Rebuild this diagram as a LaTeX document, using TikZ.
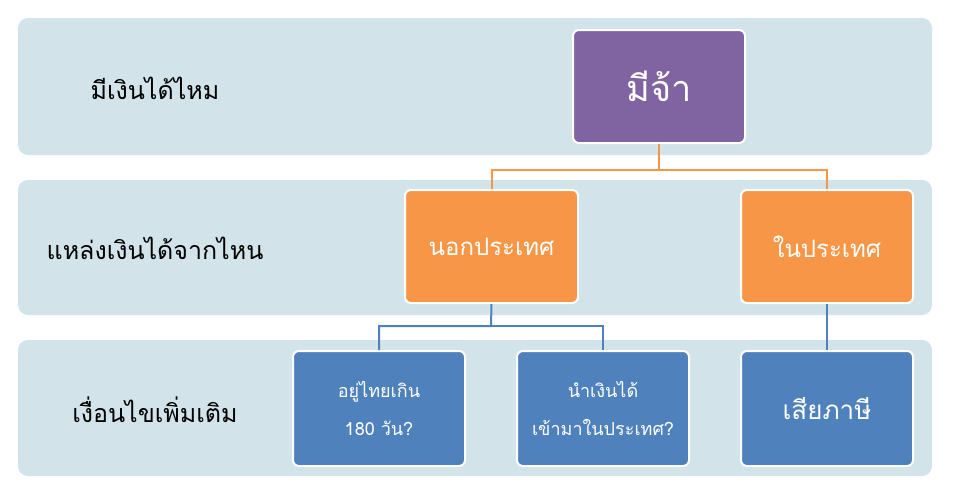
\documentclass[tikz,border=0pt]{standalone}
\usepackage{fontspec}
\newfontfamily\thai[Script=Thai]{Loma}
\definecolor{band}{HTML}{D3E3EA}
\definecolor{purp}{HTML}{8064A2}
\definecolor{orng}{HTML}{F79646}
\definecolor{blu}{HTML}{4F81BD}
\tikzset{
  bandbox/.style={fill=band,rounded corners=10pt,draw=none},
  card/.style={draw=white,line width=2pt,rounded corners=6pt,text=white,align=center,font=\thai},
  lab/.style={font=\thai\fontsize{25}{30}\selectfont,anchor=center},
  oline/.style={draw=orng,line width=2pt},
  bline/.style={draw=blu,line width=2pt}
}
\begin{document}
\begin{tikzpicture}[x=1pt,y=-1pt]
\useasboundingbox (0,0) rectangle (953,496);
\fill[bandbox] (18,18) rectangle (932,155);
\fill[bandbox] (18,180) rectangle (932,315);
\fill[bandbox] (18,340) rectangle (932,476);
\node[lab] (l1) at (155,88) {มีเงินได้ไหม};
\node[lab] (l2) at (155,248) {แหล่งเงินได้จากไหน};
\node[lab] (l3) at (155,410) {เงื่อนไขเพิ่มเติม};
\node[card,fill=purp,minimum width=172pt,minimum height=113pt,font=\thai\fontsize{36}{40}\selectfont] (a) at (659,86.5) {มีจ้า};
\node[card,fill=orng,minimum width=173pt,minimum height=113pt,font=\thai\fontsize{24}{28}\selectfont] (b) at (491.5,246.5) {นอกประเทศ};
\node[card,fill=orng,minimum width=172pt,minimum height=113pt,font=\thai\fontsize{24}{28}\selectfont] (c) at (827,246.5) {ในประเทศ};
\node[card,fill=blu,minimum width=172pt,minimum height=115pt,font=\thai\fontsize{18}{38}\selectfont] (d) at (379,408.5) {อยู่ไทยเกิน\\180 วัน?};
\node[card,fill=blu,minimum width=172pt,minimum height=115pt,font=\thai\fontsize{18}{38}\selectfont] (e) at (603,408.5) {นำเงินได้\\เข้ามาในประเทศ?};
\node[card,fill=blu,minimum width=172pt,minimum height=115pt,font=\thai\fontsize{26}{30}\selectfont] (f) at (827,408.5) {เสียภาษี};
\coordinate (oj) at (659,170);
\coordinate (bj) at (491,326);
\draw[oline] (a.south) -- (oj) -| (b.north);
\draw[oline] (oj) -| (c.north);
\draw[bline] (b.south) -- (bj) -| (d.north);
\draw[bline] (bj) -| (e.north);
\draw[bline] (c.south) -- (f.north);
\end{tikzpicture}
\end{document}
